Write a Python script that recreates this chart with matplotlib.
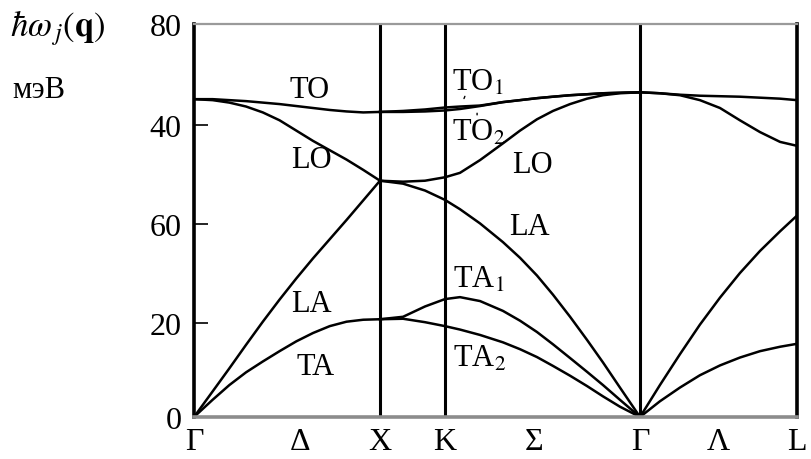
import matplotlib.pyplot as plt

plt.rcParams['font.family'] = ['Liberation Serif', 'DejaVu Serif']
plt.rcParams['mathtext.fontset'] = 'stix'

# symmetry points along the path (Γ-X taken as 1)
sym_x = [0.0, 1.0, 1.349, 2.398, 3.242]
path_labels = ['Γ', 'Δ', 'X', 'K', 'Σ', 'Γ', 'Λ', 'L']
path_label_x = [0.0, 0.57, 1.0, 1.349, 1.83, 2.398, 2.82, 3.242]

# tick marks sit slightly below the even values on this plate
ytick_vals = [0, 19.1, 39.3, 59.4, 80]
ytick_text = ['0', '20', '60', '40', '80']

# Γ -> X branches, meV
gx_q = [0, 0.1, 0.19, 0.28, 0.37, 0.46, 0.55, 0.64, 0.73, 0.82, 0.91, 1.0]
gx_ta = [0, 3.5, 6.5, 9.1, 11.3, 13.4, 15.4, 17.1, 18.5, 19.4, 19.8, 19.9]
gx_la = [0, 5.2, 9.9, 14.7, 19.4, 23.9, 28.2, 32.3, 36.2, 40.1, 44.1, 48.1]
gx_lo = [64.7, 64.5, 64.0, 63.2, 62.0, 60.4, 58.3, 56.2, 54.3, 52.4, 50.3, 48.1]
gx_to = [64.7, 64.7, 64.5, 64.3, 64.0, 63.7, 63.3, 62.9, 62.5, 62.2, 62.0, 62.1]

# X -> K -> Γ branches
xkg_q = [1.0, 1.124, 1.242, 1.349, 1.430, 1.538, 1.661, 1.753, 1.844,
         1.930, 2.022, 2.113, 2.199, 2.290, 2.398]
xkg_ta1 = [19.9, 20.4, 22.5, 24.0, 24.4, 23.6, 21.6, 19.6, 17.3, 14.8, 12.0, 9.2, 6.5, 3.5, 0]
xkg_ta2 = [19.9, 20.0, 19.3, 18.5, 17.8, 16.7, 15.2, 13.8, 12.2, 10.4, 8.4, 6.3, 4.2, 2.1, 0]
xkg_la = [48.1, 47.5, 46.1, 44.2, 42.3, 39.4, 35.6, 32.4, 28.8, 24.9, 20.4, 15.7, 11.1, 6.0, 0]
xkg_lo = [48.1, 47.9, 48.1, 48.8, 49.7, 52.3, 55.7, 58.3, 60.6, 62.3, 63.7, 64.8, 65.5, 65.9, 66.1]
xkg_to1 = [62.1, 62.3, 62.6, 63.0, 63.2, 63.4, 64.1, 64.5, 64.9, 65.2, 65.5, 65.7, 65.9, 66.0, 66.1]
xkg_to2 = [62.1, 62.1, 62.2, 62.4, 62.7, 63.3, 64.1, 64.5, 64.9, 65.2, 65.5, 65.7, 65.9, 66.0, 66.1]

# Γ -> L branches
gl_q = [2.398, 2.505, 2.613, 2.720, 2.828, 2.935, 3.043, 3.151, 3.242]
gl_ta = [0, 3.2, 6.0, 8.5, 10.5, 12.1, 13.4, 14.3, 14.9]
gl_la = [0, 6.5, 12.8, 18.8, 24.3, 29.3, 33.8, 37.8, 41.0]
gl_lo = [66.1, 65.9, 65.5, 64.5, 62.9, 60.4, 58.0, 56.0, 55.2]
gl_to = [66.1, 65.9, 65.6, 65.4, 65.3, 65.2, 65.0, 64.8, 64.5]

fig = plt.figure(figsize=(8.11, 4.60), dpi=100)
ax = fig.add_axes([194 / 811, 42 / 460, 603 / 811, 393 / 460])

branches = [
    (gx_q, gx_ta), (gx_q, gx_la), (gx_q, gx_lo), (gx_q, gx_to),
    (xkg_q, xkg_ta1), (xkg_q, xkg_ta2), (xkg_q, xkg_la), (xkg_q, xkg_lo),
    (xkg_q, xkg_to1), (xkg_q, xkg_to2),
    (gl_q, gl_ta), (gl_q, gl_la), (gl_q, gl_lo), (gl_q, gl_to),
]
for q, w in branches:
    ax.plot(q, w, color='black', lw=1.8, solid_joinstyle='round')

for x in sym_x[1:4]:
    ax.axvline(x, color='black', lw=2.2)

ax.set_xlim(sym_x[0], sym_x[-1])
ax.set_ylim(0, 80)

for side in ['left', 'right']:
    ax.spines[side].set_linewidth(2.6)
    ax.spines[side].set_color('black')
ax.spines['bottom'].set_linewidth(2.6)
ax.spines['bottom'].set_color('#8c8c8c')
ax.spines['top'].set_linewidth(1.6)
ax.spines['top'].set_color('#9a9a9a')

ax.set_yticks(ytick_vals, ytick_text)
ax.tick_params(axis='y', direction='in', length=10, width=1.2, pad=9, labelsize=23)
ax.set_xticks(path_label_x, path_labels)
ax.tick_params(axis='x', length=0, pad=7, labelsize=23)

# branch names
lab = dict(fontsize=22, va='baseline')
ax.text(0.624, 65.1, 'TO', ha='center', **lab)
ax.text(0.634, 50.9, 'LO', ha='center', **lab)
ax.text(0.634, 21.6, 'LA', ha='center', **lab)
ax.text(0.656, 8.8, 'TA', ha='center', **lab)
ax.text(1.387, 66.6, 'TO$_1$', ha='left', **lab)
ax.text(1.387, 56.4, 'TO$_2$', ha='left', **lab)
ax.text(1.817, 49.9, 'LO', ha='center', **lab)
ax.text(1.806, 37.3, 'LA', ha='center', **lab)
ax.text(1.392, 26.5, 'TA$_1$', ha='left', **lab)
ax.text(1.392, 10.4, 'TA$_2$', ha='left', **lab)

# little leaders from TO1/TO2 to their curves
ax.annotate('', xy=(1.446, 64.3), xytext=(1.462, 65.8),
            arrowprops=dict(arrowstyle='-', lw=1.0, color='black'))
ax.annotate('', xy=(1.522, 61.5), xytext=(1.522, 62.4),
            arrowprops=dict(arrowstyle='-', lw=1.0, color='black'))

fig.text(10 / 811, 1 - 28 / 460, r'$\hbar\omega_{\,j}(\mathbf{q})$', fontsize=25,
         ha='left', va='center')
fig.text(12 / 811, 1 - 91 / 460, 'мэВ', fontsize=22, ha='left', va='center')

fig.savefig('out.png', dpi=100)
